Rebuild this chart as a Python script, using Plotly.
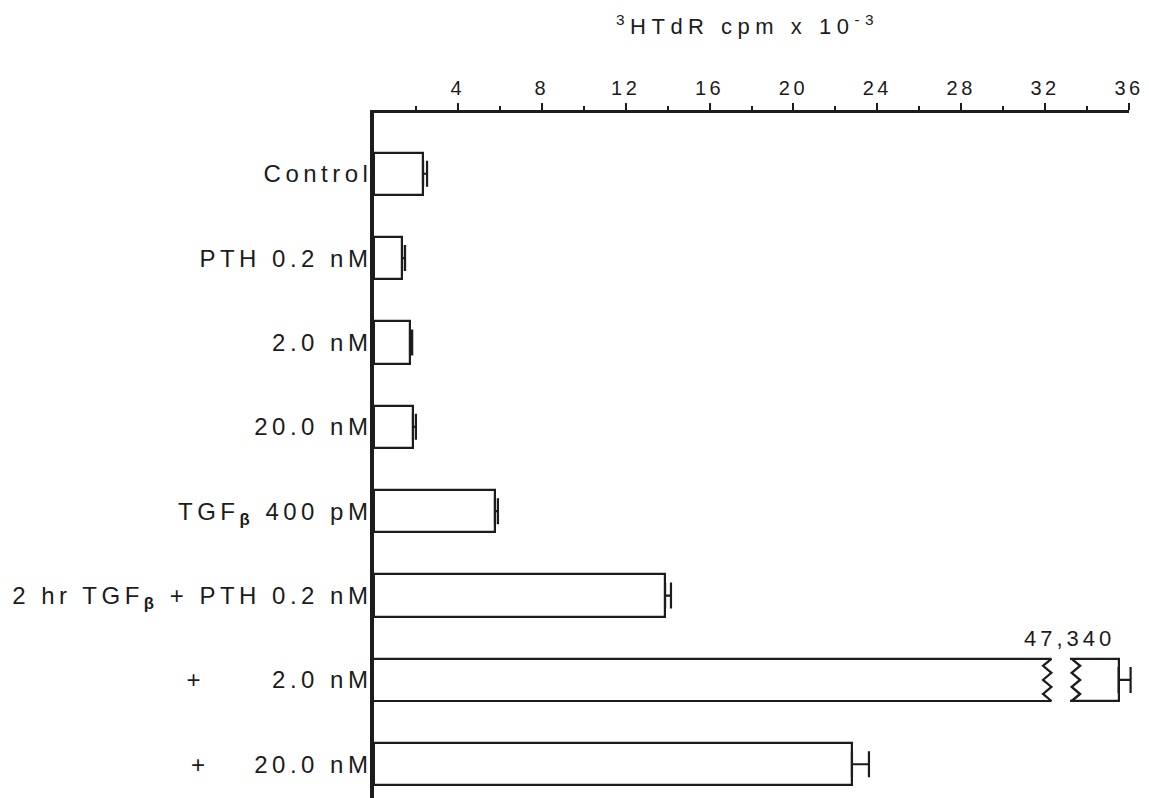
import plotly.graph_objects as go

# Treatment groups (top to bottom) and thymidine incorporation, cpm x 10^-3
labels = [
    "Control",
    "PTH 0.2 nM",
    "2.0 nM",
    "20.0 nM",
    "TGF<sub><b>β</b></sub> 400 pM",
    "2 hr TGF<sub><b>β</b></sub> + PTH 0.2 nM",
    "+\u00a0\u00a0\u00a0\u00a0\u00a0 2.0 nM",
    "+\u00a0\u00a0\u00a0 20.0 nM",
]
cpm = [2.34, 1.34, 1.72, 1.86, 5.77, 13.88, 47.34, 22.79]
sem = [0.19, 0.14, 0.10, 0.14, 0.14, 0.28, 0.57, 0.81]

x_ticks = [4, 8, 12, 16, 20, 24, 28, 32, 36]
x_minor = [2, 6, 10, 14, 18, 22, 26, 30, 34]

AXIS_MAX = 36
BREAK_LO = 32.1      # where an off-scale bar is cut
BREAK_HI = 45.3      # where its stub resumes on the right
ZIG = 0.2            # zigzag amplitude, data units
HALF = 0.25          # half bar thickness, category units

INK = "#1c1c1c"
FONT = "Liberation Sans, Arial, Helvetica, sans-serif"

W, H = 1149, 798
L, T = 374, 113
plot_w = W - L
main_px = 755                       # pixel length of the 0..36 scale
ppu = main_px / AXIS_MAX            # pixels per data unit

fig = go.Figure()

on_scale = [i for i, v in enumerate(cpm) if v <= AXIS_MAX]
off_scale = [i for i, v in enumerate(cpm) if v > AXIS_MAX]

fig.add_trace(go.Bar(
    y=on_scale, x=[cpm[i] for i in on_scale], orientation="h", width=2 * HALF,
    marker=dict(color="white", line=dict(color=INK, width=2.2)),
    error_x=dict(type="data", array=[sem[i] for i in on_scale],
                 arrayminus=[0] * len(on_scale), symmetric=False,
                 color=INK, thickness=2.2, width=13),
    xaxis="x", yaxis="y", showlegend=False,
))


def zigzag(x0, y, n=7, start=1):
    xs, ys = [], []
    for k in range(n):
        xs.append(x0 + (ZIG if (k % 2 == 0) == (start == 1) else -ZIG))
        ys.append(y - HALF + 2 * HALF * k / (n - 1))
    return xs, ys


for i in off_scale:
    # cut part of the bar on the main scale
    fig.add_trace(go.Bar(
        y=[i], x=[BREAK_LO], orientation="h", width=2 * HALF,
        marker=dict(color="white", line=dict(width=0)),
        xaxis="x", yaxis="y", showlegend=False,
    ))
    zx, zy = zigzag(BREAK_LO, i)
    fig.add_trace(go.Scatter(
        x=[0] + zx + [0], y=[i - HALF] + zy + [i + HALF],
        mode="lines", line=dict(color=INK, width=2.2),
        xaxis="x", yaxis="y", showlegend=False, hoverinfo="skip",
    ))
    # stub carrying the true value
    fig.add_trace(go.Bar(
        y=[i], x=[cpm[i]], orientation="h", width=2 * HALF,
        marker=dict(color="white", line=dict(color=INK, width=2.2)),
        error_x=dict(type="data", array=[sem[i]], arrayminus=[0], symmetric=False,
                     color=INK, thickness=2.2, width=13),
        xaxis="x2", yaxis="y", showlegend=False,
    ))
    zx, zy = zigzag(BREAK_HI, i, start=-1)
    fig.add_trace(go.Scatter(
        x=zx, y=zy, mode="lines", line=dict(color=INK, width=2.4),
        xaxis="x2", yaxis="y", showlegend=False, hoverinfo="skip",
    ))
    fig.add_annotation(
        x=cpm[i], y=i - HALF, xref="x2", yref="y",
        text=f"{cpm[i] * 1000:,.0f}", showarrow=False,
        xanchor="right", yanchor="bottom", xshift=-14, yshift=6,
        font=dict(family=FONT, size=22, color=INK),
        name="value",
    )

# stub axis: same pixel scale, placed just right of the cut
x2_left = BREAK_HI - ZIG - 0.08
x2_px0 = 1070
x2_dom0 = (x2_px0 - L) / plot_w
x2_right = x2_left + (W - x2_px0) / ppu

fig.update_layout(
    width=W, height=H,
    margin=dict(l=L, r=0, t=T, b=0, autoexpand=False),
    paper_bgcolor="white", plot_bgcolor="white",
    bargap=0,
    font=dict(family=FONT, color=INK),
    xaxis=dict(
        side="top", range=[0, AXIS_MAX], domain=[0, main_px / plot_w],
        tickmode="array", tickvals=x_ticks, ticktext=[str(v) for v in x_ticks],
        ticks="outside", ticklen=7, tickwidth=2, tickcolor=INK,
        minor=dict(tickmode="array", tickvals=x_minor, ticks="outside",
                   ticklen=4, tickwidth=2, tickcolor=INK),
        showline=True, linecolor=INK, linewidth=3,
        showgrid=False, zeroline=False, automargin=False,
        tickfont=dict(family=FONT, size=20, color=INK),
        ticklabelstandoff=0,
    ),
    xaxis2=dict(
        domain=[x2_dom0, 1], range=[x2_left, x2_right], anchor="y",
        visible=False, showgrid=False, zeroline=False, automargin=False,
    ),
    yaxis=dict(
        range=[7.4, -0.72], tickmode="array",
        tickvals=list(range(len(labels))), ticktext=labels,
        showline=True, linecolor=INK, linewidth=3.5,
        ticks="", showgrid=False, zeroline=False, automargin=False,
        tickfont=dict(family=FONT, size=24, color=INK),
        ticklabelstandoff=-7,
    ),
)

fig.add_annotation(
    x=(747 - L) / plot_w, y=1 + (T - 25) / (H - T),
    xref="paper", yref="paper", yanchor="middle",
    text="<sup>3</sup>HTdR cpm x 10<sup>-3</sup>", showarrow=False,
    font=dict(family=FONT, size=22, color=INK),
    name="title",
)

# wide typewriter-like tracking of the lettering
spacing_js = """
var gd = document.getElementById('{plot_id}');
function track() {
  gd.querySelectorAll('.ytick text').forEach(function (t) { t.style.letterSpacing = '4.5px'; });
  gd.querySelectorAll('.xtick text').forEach(function (t) { t.style.letterSpacing = '3.5px'; });
  gd.querySelectorAll('.annotation-text').forEach(function (t) {
    t.style.letterSpacing = (t.textContent.indexOf('HTdR') >= 0) ? '5.5px' : '4px';
  });
}
track();
gd.on('plotly_afterplot', track);
"""

fig.write_html("out.html", post_script=spacing_js)
